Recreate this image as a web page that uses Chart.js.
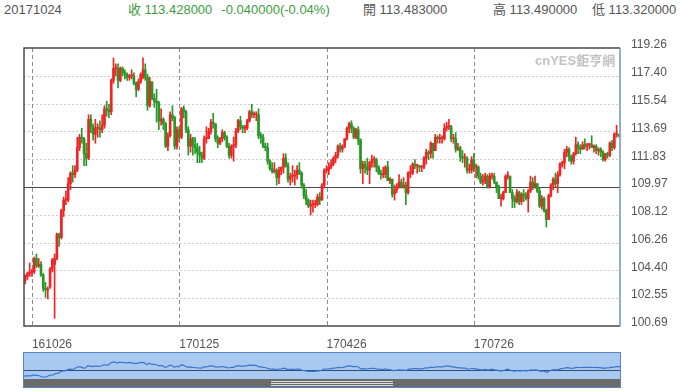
<!DOCTYPE html>
<html lang="zh-Hant">
<head>
<meta charset="UTF-8">
<title>USD/JPY 日K</title>
<script src="https://cdn.jsdelivr.net/npm/chart.js@4"></script>
<style>
  body { margin: 0; width: 680px; height: 391px; background: #fff; overflow: hidden;
         font-family: "Liberation Sans", Arial, "Noto Sans CJK TC", sans-serif; }
  .head { position: absolute; top: 2px; font-size: 13px; line-height: 15px; color: #555; white-space: nowrap; }
  .up { color: #3d9c3d; }
  #main { position: absolute; left: 0; top: 0; }
  .mark { position: absolute; left: 535px; top: 50px; font-size: 13px; font-weight: bold; color: #c2c2c2;
          font-family: "Liberation Sans", Arial, "Noto Sans CJK TC", sans-serif; }
  #navWrap { position: absolute; left: 23px; top: 352px; width: 596px; height: 34px;
             border: 1px solid #5a84bd; background: #a9c9f1; }
  #nav { position: absolute; left: 0; top: 0; }
  .scroll { position: absolute; left: 0; top: 26px; width: 596px; height: 8px; background: #6b6b6b; }
  .grip { position: absolute; left: 247px; width: 122px; height: 1px; background: #dcdcdc; }
</style>
</head>
<body>
<div class="head" style="left:4px">20171024</div>
<div class="head up" style="left:128px">收 113.428000<span style="margin-left:9px">-0.040000(-0.04%)</span></div>
<div class="head" style="left:363px">開 113.483000</div>
<div class="head" style="left:493px">高 113.490000</div>
<div class="head" style="left:592px">低 113.320000</div>

<canvas id="main" width="680" height="350"></canvas>
<div class="mark">cnYES鉅亨網</div>

<div id="navWrap">
  <canvas id="nav" width="596" height="26"></canvas>
  <div class="scroll">
    <div class="grip" style="top:2px"></div>
    <div class="grip" style="top:4px"></div>
    <div class="grip" style="top:6px"></div>
  </div>
</div>

<script>
// trading days (weekdays) 2016-10-21 .. 2017-10-24, labelled YYMMDD
const dates = [];
(function () {
  const end = Date.UTC(2017, 9, 24);
  for (let t = Date.UTC(2016, 9, 21); t <= end; t += 86400000) {
    const d = new Date(t);
    const w = d.getUTCDay();
    if (w === 0 || w === 6) continue;
    dates.push(String(d.getUTCFullYear()).slice(2) +
      String(d.getUTCMonth() + 1).padStart(2, '0') +
      String(d.getUTCDate()).padStart(2, '0'));
  }
})();

const xTickLabels = ['161026', '170125', '170426', '170726'];
const yTicks = [100.69, 102.55, 104.40, 106.26, 108.12, 109.97, 111.83, 113.69, 115.54, 117.40, 119.26];
const midPrice = 109.97;

// daily OHLC
const opens = [
  103.7,104.0,104.2,104.3,104.3,105.2,104.7,104.8,104.1,103.2,
  103.1,103.3,104.5,104.8,105.2,106.8,106.6,108.4,109.1,109.1,
  110.2,110.9,110.8,111.1,112.6,113.3,113.2,112.2,111.9,114.5,
  114.0,113.5,113.9,113.9,113.8,114.1,115.2,115.1,115.0,117.1,
  117.9,117.9,117.1,117.9,117.6,117.5,117.3,117.4,117.4,116.9,
  116.5,117.0,117.3,117.8,117.3,115.4,117.0,115.9,115.7,115.6,
  114.4,114.5,114.2,112.7,113.4,114.8,114.6,112.7,113.8,113.3,
  115.2,115.0,113.8,112.7,113.2,112.8,112.6,112.3,112.1,111.9,
  113.2,113.2,113.7,114.3,114.2,113.2,112.9,113.2,113.6,113.3,
  112.7,112.1,112.7,112.8,113.7,114.4,114.0,113.9,113.9,114.4,
  115.0,114.8,114.8,114.8,113.4,113.3,112.7,112.6,111.7,111.2,
  111.0,111.1,110.6,111.1,111.3,111.9,111.4,110.5,110.7,110.7,
  110.8,111.1,110.9,110.1,109.4,109.1,108.7,108.8,108.8,108.8,
  109.3,109.1,110.1,111.1,111.1,111.3,111.5,111.9,112.1,112.7,
  112.5,112.7,113.2,113.9,114.2,113.9,113.3,113.8,113.1,111.2,
  111.5,111.3,111.1,111.6,111.8,111.8,111.3,110.9,110.8,110.8,
  111.3,110.4,110.5,109.5,109.8,110.0,110.3,110.0,110.1,109.6,
  110.9,110.9,111.5,111.4,111.4,111.3,111.3,111.9,112.3,112.2,
  112.9,112.4,113.3,113.2,113.2,113.2,113.9,114.0,114.0,113.2,
  113.2,112.5,112.6,112.0,111.9,111.9,111.1,111.1,111.8,111.3,
  111.3,110.7,110.3,110.4,110.7,110.0,110.7,110.7,110.3,110.0,
  109.2,109.2,109.6,110.7,110.7,109.6,109.2,109.0,109.6,109.0,
  109.5,109.4,109.2,109.7,110.3,110.0,110.2,109.7,108.7,109.2,
  108.4,107.8,109.4,110.1,110.5,110.2,110.8,111.5,111.6,112.3,
  112.5,112.0,111.7,112.2,112.8,112.6,112.5,112.8,112.7,112.8,
  112.8,112.6,112.7,112.4,112.5,112.3,111.8,112.2,112.1,112.9,
  112.6,113.5,113.483
];
const highs = [
  104.1,104.3,104.9,104.5,105.3,105.5,105.2,105.0,104.2,103.6,
  103.3,104.6,105.2,105.5,106.9,106.9,108.5,109.3,109.7,110.6,
  111.0,111.4,111.4,113.3,113.5,113.9,113.3,112.9,114.8,114.8,
  114.2,114.5,114.2,114.4,114.8,115.4,115.7,115.5,117.2,118.6,
  118.2,118.2,118.0,118.0,117.8,117.6,117.5,117.8,117.6,117.0,
  117.2,117.6,118.6,118.2,117.5,117.3,117.0,116.2,116.5,115.7,
  115.2,114.6,114.3,113.6,115.0,115.4,114.7,114.0,114.0,115.3,
  115.4,115.1,114.0,113.5,113.3,113.3,112.9,112.7,112.3,113.4,
  114.0,113.9,114.5,114.9,114.2,113.4,113.3,113.8,113.7,113.4,
  112.9,112.8,113.3,113.9,114.5,114.7,114.1,114.1,114.5,115.1,
  115.5,115.0,115.0,115.2,113.6,113.5,112.9,112.9,111.8,111.6,
  111.6,111.2,111.3,111.3,112.2,112.2,111.6,110.9,111.4,111.1,
  111.4,111.6,111.0,110.2,109.8,109.2,109.1,109.1,109.1,109.5,
  109.6,110.2,111.2,111.4,111.6,111.8,112.0,112.3,112.8,112.9,
  112.8,113.2,114.0,114.3,114.4,114.0,113.9,114.0,113.2,111.7,
  111.7,111.9,111.7,112.1,112.0,111.9,111.4,111.1,111.3,111.4,
  111.7,110.6,110.5,110.1,110.2,110.8,110.5,110.6,110.3,111.0,
  111.4,111.6,111.8,111.5,111.4,111.4,112.0,112.5,112.4,113.0,
  112.9,113.5,113.4,113.5,113.4,114.2,114.3,114.5,114.1,113.5,
  113.6,112.9,112.7,112.4,112.2,112.0,111.5,112.0,112.2,111.5,
  111.4,110.9,110.8,110.9,110.8,110.9,110.9,110.9,110.3,110.1,
  109.5,109.7,110.8,111.0,110.7,109.8,109.4,109.8,109.7,109.6,
  109.8,109.6,109.8,110.7,110.6,110.7,110.2,109.9,109.4,109.3,
  108.5,109.5,110.2,110.6,110.9,111.0,111.6,111.7,112.5,112.7,
  112.6,112.1,112.3,113.3,113.0,112.8,113.0,113.2,112.9,112.9,
  113.4,112.8,112.8,112.6,112.6,112.4,112.2,112.3,113.0,113.1,
  113.6,114.1,113.49
];
const lows = [
  103.5,103.8,104.0,104.0,104.2,104.6,104.6,104.0,103.0,102.6,
  102.5,103.2,104.3,101.2,105.1,106.0,106.5,108.0,108.8,109.0,
  109.8,110.3,110.6,111.0,112.4,112.9,111.4,111.4,111.8,113.6,
  113.1,112.9,113.3,113.3,113.6,113.9,114.7,114.6,114.8,116.9,
  117.4,116.6,117.0,117.4,117.2,117.1,117.1,117.2,116.8,116.0,
  116.4,116.9,117.2,117.1,115.1,115.3,115.8,115.3,114.3,113.8,
  114.1,113.8,112.6,112.4,113.3,114.4,112.5,112.5,113.0,113.2,
  114.6,113.6,112.1,112.3,112.1,112.2,111.6,111.6,111.6,111.8,
  112.9,113.2,113.5,113.9,113.0,112.6,112.8,113.0,113.1,112.6,
  111.9,111.9,111.7,112.6,113.6,113.8,113.6,113.6,113.8,114.3,
  114.6,114.6,114.4,113.2,112.9,112.6,112.4,111.5,111.1,110.9,
  110.9,110.1,110.2,110.8,110.9,111.3,110.3,110.1,110.3,110.1,
  110.5,110.8,109.9,109.2,108.8,108.6,108.1,108.3,108.6,108.7,
  108.8,109.1,109.9,110.9,110.8,111.2,111.4,111.6,111.9,112.3,
  112.3,112.6,113.1,113.6,113.6,113.2,113.2,112.8,110.9,110.2,
  110.9,110.8,110.2,111.3,111.3,111.0,110.8,110.5,110.6,110.6,
  110.4,110.2,109.3,109.1,109.6,109.9,109.9,109.9,108.8,109.5,
  110.6,110.8,111.2,110.9,111.0,111.0,111.2,111.5,111.8,111.9,
  111.9,112.4,112.9,112.9,112.9,113.1,113.7,113.8,113.0,112.9,
  112.3,112.4,111.7,111.6,111.3,110.9,110.9,110.9,111.0,110.6,
  110.5,110.2,110.1,110.2,109.9,109.9,110.5,110.2,109.6,109.2,
  108.7,109.1,109.6,110.5,109.6,108.6,108.6,108.9,108.8,108.8,
  109.0,109.1,108.3,109.6,109.8,109.9,109.6,108.6,108.5,108.3,
  107.3,107.8,109.3,109.8,110.0,109.6,110.7,111.3,111.2,112.0,
  111.7,111.5,111.5,112.1,112.2,112.2,112.5,112.5,112.4,112.5,
  112.6,112.3,112.2,112.1,112.0,111.7,111.7,111.9,112.0,112.4,
  112.5,113.3,113.32
];
const closes = [
  104.0,104.2,104.3,104.3,105.2,104.7,104.8,104.1,103.2,103.1,
  103.1,104.5,105.1,105.2,106.8,106.6,108.4,109.1,109.1,110.2,
  110.9,110.8,111.1,112.6,113.3,113.2,112.2,111.9,114.5,114.0,
  113.5,113.9,113.9,113.8,114.1,115.2,115.1,115.0,117.1,117.9,
  117.9,117.1,117.9,117.6,117.5,117.3,117.4,117.4,116.9,116.5,
  117.0,117.5,117.8,117.3,115.4,117.0,115.9,115.7,115.6,114.4,
  114.5,114.2,112.7,113.4,114.8,114.6,112.7,113.8,113.3,115.2,
  115.0,113.8,112.7,113.2,112.8,112.6,112.3,112.1,111.9,113.2,
  113.2,113.7,114.3,114.2,113.2,112.9,113.2,113.6,113.3,112.7,
  112.1,112.7,112.8,113.7,114.4,114.0,113.9,113.9,114.4,115.0,
  114.8,114.8,114.8,113.4,113.3,112.7,112.6,111.7,111.2,111.0,
  111.1,110.6,111.1,111.3,111.9,111.4,110.5,110.7,110.7,110.8,
  111.1,110.9,110.1,109.4,109.1,108.7,108.8,108.8,108.8,109.3,
  109.1,110.1,111.1,111.1,111.3,111.5,111.9,112.1,112.7,112.5,
  112.7,113.2,113.9,114.2,113.9,113.3,113.8,113.1,111.2,111.5,
  111.3,111.1,111.6,111.8,111.8,111.3,110.9,110.8,110.8,111.3,
  110.4,110.5,109.5,109.8,110.0,110.3,110.0,110.1,109.6,110.9,
  110.9,111.5,111.4,111.4,111.3,111.3,111.9,112.3,112.2,112.9,
  112.4,113.3,113.2,113.2,113.2,113.9,114.0,114.0,113.2,113.2,
  112.5,112.6,112.0,111.9,111.9,111.1,111.1,111.8,111.3,111.3,
  110.7,110.3,110.4,110.7,110.0,110.7,110.7,110.3,110.0,109.2,
  109.2,109.6,110.7,110.7,109.6,109.2,109.0,109.6,109.0,109.5,
  109.4,109.2,109.7,110.3,110.0,110.2,109.7,108.7,109.2,108.4,
  107.8,109.4,110.1,110.5,110.2,110.8,111.5,111.6,112.3,112.5,
  112.0,111.7,112.2,112.8,112.6,112.5,112.8,112.7,112.8,112.8,
  112.6,112.7,112.4,112.5,112.3,111.8,112.2,112.1,112.9,112.6,
  113.5,113.5,113.428
];

const UP = '#f02424';
const DOWN = '#269826';
const candleColor = closes.map((c, i) => c >= opens[i] ? UP : DOWN);

Chart.defaults.font.family = '"Liberation Sans", Arial, sans-serif';

// dotted price lines, solid middle line, dashed date lines and the frame
const gridPlugin = {
  id: 'quoteGrid',
  beforeDatasetsDraw(chart) {
    const { ctx, chartArea: a, scales: { x, y } } = chart;
    ctx.save();
    ctx.lineWidth = 1;
    yTicks.forEach(v => {
      if (v === yTicks[0] || v === yTicks[yTicks.length - 1]) return;
      const py = Math.round(y.getPixelForValue(v)) + 0.5;
      if (v === midPrice) { ctx.setLineDash([]); ctx.strokeStyle = '#4a4a4a'; }
      else { ctx.setLineDash([2, 2]); ctx.strokeStyle = '#cdcdcd'; }
      ctx.beginPath(); ctx.moveTo(a.left, py); ctx.lineTo(a.right, py); ctx.stroke();
    });
    ctx.setLineDash([4, 3]);
    ctx.strokeStyle = '#8c8c8c';
    xTickLabels.forEach(lbl => {
      const px = Math.round(x.getPixelForValue(dates.indexOf(lbl))) + 0.5;
      ctx.beginPath(); ctx.moveTo(px, a.top); ctx.lineTo(px, a.bottom); ctx.stroke();
    });
    ctx.restore();
  },
  afterDraw(chart) {
    const { ctx, chartArea: a } = chart;
    ctx.save();
    ctx.lineWidth = 1.5;
    ctx.strokeStyle = '#4a4a4a';
    ctx.beginPath();
    ctx.moveTo(a.right, a.top); ctx.lineTo(a.left, a.top);
    ctx.lineTo(a.left, a.bottom); ctx.lineTo(a.right, a.bottom);
    ctx.stroke();
    ctx.strokeStyle = '#6a98b8';
    ctx.beginPath(); ctx.moveTo(a.right, a.top); ctx.lineTo(a.right, a.bottom); ctx.stroke();
    ctx.restore();
  }
};

new Chart(document.getElementById('main'), {
  type: 'bar',
  data: {
    labels: dates,
    datasets: [
      { label: 'body', data: opens.map((o, i) => [o, closes[i]]), backgroundColor: candleColor,
        barThickness: 2, minBarLength: 1, grouped: false, order: 0 },
      { label: 'wick', data: lows.map((l, i) => [l, highs[i]]), backgroundColor: candleColor,
        barThickness: 1, grouped: false, order: 1 }
    ]
  },
  options: {
    responsive: false,
    animation: false,
    layout: { padding: { top: 48, left: 24, right: 0, bottom: 0 } },
    plugins: { legend: { display: false }, tooltip: { enabled: false } },
    scales: {
      x: {
        offset: true,
        grid: { display: false },
        border: { display: false },
        ticks: {
          autoSkip: false, maxRotation: 0, minRotation: 0, align: 'start', padding: 3,
          color: '#555', font: { size: 12 },
          callback: (v, i) => xTickLabels.includes(dates[i]) ? dates[i] : ''
        },
        afterFit: s => { s.height = 24; }
      },
      y: {
        position: 'right',
        min: yTicks[0],
        max: yTicks[yTicks.length - 1],
        afterBuildTicks: s => { s.ticks = yTicks.map(v => ({ value: v })); },
        grid: { display: false },
        border: { display: false },
        ticks: { padding: 3, color: '#555', font: { size: 12 }, labelOffset: -3,
                 callback: v => Number(v).toFixed(2) },
        afterFit: s => { s.width = 60; }
      }
    }
  },
  plugins: [gridPlugin]
});

// navigator strip under the chart
const navMin = 101.1, navMax = 127.1;
const navPlugin = {
  id: 'navMid',
  beforeDatasetsDraw(chart) {
    const { ctx, chartArea: a, scales: { y } } = chart;
    const py = Math.round(y.getPixelForValue(midPrice)) + 0.5;
    ctx.save();
    ctx.strokeStyle = '#2f4f7a';
    ctx.lineWidth = 1;
    ctx.beginPath(); ctx.moveTo(a.left, py); ctx.lineTo(a.right, py); ctx.stroke();
    ctx.restore();
  }
};

new Chart(document.getElementById('nav'), {
  type: 'line',
  data: {
    labels: dates,
    datasets: [{ data: closes, borderColor: '#3b76cc', borderWidth: 1.2, pointRadius: 0, tension: 0 }]
  },
  options: {
    responsive: false,
    animation: false,
    layout: { padding: 0 },
    plugins: { legend: { display: false }, tooltip: { enabled: false } },
    scales: { x: { display: false }, y: { display: false, min: navMin, max: navMax } }
  },
  plugins: [navPlugin]
});
</script>
</body>
</html>
